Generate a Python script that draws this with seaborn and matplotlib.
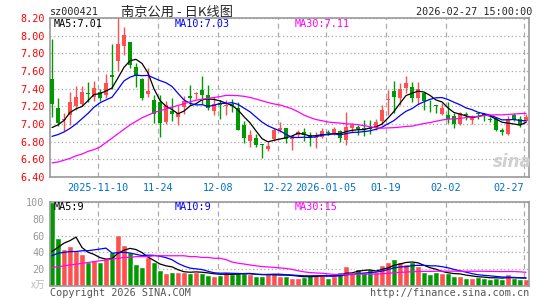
import numpy as np
import pandas as pd
import matplotlib
matplotlib.use("Agg")
import matplotlib.pyplot as plt
import seaborn as sns

# trading days (market closed on these)
holidays = ["2026-01-01", "2026-01-02", "2026-02-16", "2026-02-17", "2026-02-18",
            "2026-02-19", "2026-02-20", "2026-02-23"]
dates = pd.bdate_range("2025-10-29", "2026-02-27", freq="C", holidays=holidays)

tick_dates = ["2025-11-10", "2025-11-24", "2025-12-08", "2025-12-22",
              "2026-01-05", "2026-01-19", "2026-02-02", "2026-02-27"]
tick_labels = ["2025-11-10", "11-24", "12-08", "12-22", "2026-01-05", "01-19", "02-02", "02-27"]

# daily prices
open_ = [7.51, 7.18, 7.04, 7.10, 7.20, 7.23, 7.35, 7.31, 7.36, 7.33,
         7.55, 7.71, 7.88, 7.93, 7.65, 7.51, 7.34, 7.27, 7.25, 7.02,
         7.15, 7.08, 7.19, 7.32, 7.34, 7.38, 7.33, 7.15, 7.23, 7.20,
         7.23, 7.18, 6.99, 6.81, 6.84, 6.77, 6.72, 6.83, 6.93, 6.95,
         6.83, 6.88, 6.91, 6.87, 6.84, 6.85, 6.91, 6.90, 6.92, 6.82,
         6.96, 6.97, 6.95, 6.95, 6.97, 7.03, 7.27, 7.37, 7.29, 7.41,
         7.42, 7.30, 7.35, 7.22, 7.21, 7.11, 7.10, 7.09, 7.00, 7.11,
         7.05, 7.12, 7.11, 7.06, 7.06, 6.93, 6.89, 7.10, 7.06, 7.03]
high = [7.96, 7.29, 7.12, 7.36, 7.43, 7.43, 7.48, 7.49, 7.40, 7.57,
        7.90, 8.20, 8.10, 7.93, 7.69, 7.52, 7.63, 7.33, 7.33, 7.26,
        7.30, 7.22, 7.32, 7.44, 7.36, 7.54, 7.44, 7.31, 7.27, 7.27,
        7.28, 7.25, 7.03, 6.93, 6.89, 6.77, 6.80, 6.95, 7.02, 6.96,
        6.88, 6.93, 6.95, 6.91, 6.91, 6.95, 6.93, 6.97, 6.93, 7.14,
        7.01, 6.99, 7.04, 7.04, 7.06, 7.22, 7.38, 7.49, 7.46, 7.54,
        7.47, 7.48, 7.36, 7.27, 7.22, 7.24, 7.25, 7.12, 7.14, 7.14,
        7.10, 7.13, 7.12, 7.08, 7.08, 6.95, 7.09, 7.13, 7.09, 7.11]
low = [7.08, 6.98, 6.92, 6.99, 7.16, 7.20, 7.25, 7.26, 7.26, 7.30,
       7.40, 7.60, 7.78, 7.63, 7.42, 7.27, 7.31, 7.01, 6.85, 7.00,
       7.03, 6.99, 7.11, 7.21, 7.28, 7.23, 7.16, 7.10, 7.06, 7.10,
       7.14, 6.93, 6.79, 6.74, 6.74, 6.62, 6.69, 6.81, 6.91, 6.79,
       6.71, 6.85, 6.81, 6.75, 6.73, 6.84, 6.87, 6.88, 6.80, 6.76,
       6.91, 6.87, 6.86, 6.89, 6.93, 6.99, 7.10, 7.12, 7.22, 7.35,
       7.25, 7.23, 7.16, 7.14, 7.12, 7.10, 7.01, 6.95, 6.99, 7.05,
       7.00, 7.06, 7.03, 7.02, 6.92, 6.87, 6.88, 7.03, 6.97, 7.02]
close = [7.23, 7.01, 7.06, 7.25, 7.31, 7.36, 7.34, 7.41, 7.30, 7.46,
         7.53, 7.91, 8.01, 7.67, 7.54, 7.30, 7.37, 7.11, 7.01, 7.22,
         7.11, 7.13, 7.26, 7.30, 7.35, 7.33, 7.18, 7.23, 7.22, 7.22,
         7.20, 6.93, 6.84, 6.88, 6.76, 6.76, 6.75, 6.93, 6.95, 6.83,
         6.86, 6.91, 6.87, 6.85, 6.85, 6.92, 6.90, 6.94, 6.84, 6.97,
         6.99, 6.94, 6.94, 6.94, 7.02, 7.16, 7.28, 7.31, 7.40, 7.46,
         7.29, 7.40, 7.26, 7.21, 7.20, 7.18, 7.06, 7.00, 7.12, 7.10,
         7.09, 7.11, 7.10, 7.05, 6.93, 6.91, 7.06, 7.05, 6.99, 7.08]
# volume, 10k lots
volume = [100, 57, 44, 48, 42, 38, 29, 31, 29, 33,
          41, 61, 49, 40, 26, 23, 34, 29, 19, 15,
          17, 17, 17, 16, 17, 15, 13, 12, 13, 17,
          14, 15, 15, 14, 12, 12, 14, 15, 12, 12,
          10, 10, 11, 13, 13, 13, 10, 12, 17, 24,
          15, 20, 17, 20, 17, 25, 29, 32, 28, 26,
          28, 24, 17, 14, 17, 15, 16, 12, 12, 10,
          10, 11, 10, 8, 10, 8, 14, 9, 8, 8]

# moving averages before the window fills (they include earlier days)
ma5_head = [6.96, 6.99, 7.04, 7.13]
ma10_head = [6.86, 6.88, 6.91, 6.95, 7.00, 7.06, 7.12, 7.19, 7.24]
ma30_head = [6.56, 6.57, 6.59, 6.61, 6.64, 6.66, 6.69, 6.71, 6.74, 6.79,
             6.84, 6.89, 6.94, 6.99, 7.03, 7.07, 7.10, 7.13, 7.15, 7.17,
             7.19, 7.21, 7.23, 7.25, 7.27, 7.28, 7.29, 7.30, 7.31]
vma5_head = [41, 46, 51, 54]
vma10_head = [36, 39, 40, 41, 41, 42, 42, 43, 44]
vma30_head = [22, 23, 24, 25, 26, 27, 28, 29, 30, 31,
              32, 33, 34, 34, 35, 35, 35, 36, 36, 36,
              36, 36, 36, 35, 35, 34, 34, 33, 33]

df = pd.DataFrame({"date": dates[:len(close)], "open": open_, "high": high,
                   "low": low, "close": close, "volume": volume})
df["idx"] = np.arange(len(df))
df["up"] = df["close"] >= df["open"]
for n, head in [(5, ma5_head), (10, ma10_head), (30, ma30_head)]:
    df[f"ma{n}"] = df["close"].rolling(n).mean()
    df.loc[:len(head) - 1, f"ma{n}"] = head
for n, head in [(5, vma5_head), (10, vma10_head), (30, vma30_head)]:
    df[f"vma{n}"] = df["volume"].rolling(n).mean()
    df.loc[:len(head) - 1, f"vma{n}"] = head

tick_pos = df.index[df["date"].isin(pd.to_datetime(tick_dates))].to_numpy() - 1 / 3

RED = "#ff5050"
GREEN = "#009900"
GRID = "#aaaaaa"
BLUE_TXT = "#0070c8"

sns.set_style("white")
plt.rcParams["font.family"] = ["DejaVu Sans Mono", "Noto Sans CJK SC"]

W, H = 545, 300
fig = plt.figure(figsize=(W / 100, H / 100), dpi=100)
ax = fig.add_axes([50 / W, 1 - 177 / H, 479 / W, 159 / H])
axv = fig.add_axes([50 / W, 1 - 286 / H, 479 / W, 84 / H])

def pt(x, y):
    return x / W, 1 - y / H

# candles
cols = np.where(df["up"], RED, GREEN)
ax.vlines(df["idx"], df["low"], df["high"], colors=cols, lw=1, zorder=3)
body_lo = np.minimum(df["open"], df["close"])
body_h = np.maximum((df["close"] - df["open"]).abs(), 0.006)
ax.bar(df["idx"], body_h, bottom=body_lo, width=0.8, color=cols, lw=0, zorder=4)

sns.lineplot(x=df["idx"], y=df["ma5"], ax=ax, color="black", lw=0.9, zorder=5)
sns.lineplot(x=df["idx"], y=df["ma10"], ax=ax, color="#0000ff", lw=0.9, zorder=5)
sns.lineplot(x=df["idx"], y=df["ma30"], ax=ax, color="#ff00ff", lw=0.9, zorder=5)

# volume
sns.barplot(data=df, x="idx", y="volume", hue="up", palette={True: RED, False: GREEN},
            dodge=False, width=0.85, legend=False, ax=axv, saturation=1, zorder=2)
sns.lineplot(x=df["idx"], y=df["vma5"], ax=axv, color="black", lw=0.9, zorder=5)
sns.lineplot(x=df["idx"], y=df["vma10"], ax=axv, color="#0000ff", lw=0.9, zorder=5)
sns.lineplot(x=df["idx"], y=df["vma30"], ax=axv, color="#ff00ff", lw=0.9, zorder=5)

for a in (ax, axv):
    a.set_xlim(-1 / 3, 79.5)
    a.set_xlabel("")
    a.set_ylabel("")
    for s in a.spines.values():
        s.set_color("#999999")
        s.set_linewidth(1.2)
    a.tick_params(length=0)
    a.set_xticks(tick_pos)
    a.grid(axis="x", color=GRID, linestyle=(0, (4, 3)), lw=0.9)
    a.grid(axis="y", color=GRID, linestyle=(0, (1, 2)), lw=0.9)
    a.set_axisbelow(True)

ax.set_ylim(6.40, 8.20)
yt = np.round(np.arange(6.40, 8.21, 0.2), 2)
ax.set_yticks(yt)
ax.set_yticklabels([f"{v:.2f}" for v in yt], color="red", fontsize=7.3)
ax.tick_params(axis="y", pad=4)
ax.set_xticklabels(tick_labels, color=BLUE_TXT, fontsize=7.3)
ax.tick_params(axis="x", pad=4)
ax.get_xticklabels()[-1].set_ha("right")
ax.get_xticklabels()[-1].set_x(tick_pos[-1])

axv.set_ylim(0, 100)
axv.set_yticks([20, 40, 60, 80, 100])
axv.set_yticklabels(["20", "40", "60", "80", "100"], color="#999999", fontsize=7.3)
axv.tick_params(axis="y", pad=4)
axv.set_xticklabels([])

# texts
fig.text(*pt(50, 12), "sz000421", fontsize=7.3, va="center")
fig.text(*pt(121, 12), "南京公用 - 日K线图", fontsize=9.5, va="center",
         family=["Noto Sans CJK SC", "DejaVu Sans"])
fig.text(*pt(532, 12), "2026-02-27 15:00:00", fontsize=7.3, va="center", ha="right")

fig.text(*pt(54, 24), "MA5:7.01", fontsize=7.3, va="center", color="black")
fig.text(*pt(175, 24), "MA10:7.03", fontsize=7.3, va="center", color="#0000ff")
fig.text(*pt(295, 24), "MA30:7.11", fontsize=7.3, va="center", color="#ff00ff")
fig.text(*pt(54, 207), "MA5:9", fontsize=7.3, va="center", color="black")
fig.text(*pt(175, 207), "MA10:9", fontsize=7.3, va="center", color="#0000ff")
fig.text(*pt(295, 207), "MA30:15", fontsize=7.3, va="center", color="#ff00ff")

fig.text(*pt(45, 285), "x万", fontsize=7, va="center", ha="right", color="#bbbbbb",
         family=["Noto Sans CJK SC", "DejaVu Sans"])
fig.text(*pt(50, 293), "Copyright 2026 SINA.COM", fontsize=7.3, va="center", color="#555555")
fig.text(*pt(529, 293), "http://finance.sina.com.cn", fontsize=7.3, va="center",
         ha="right", color="#555555")
fig.text(*pt(512, 162), "sina", fontsize=12, va="center", ha="center", color="#d0d0d0",
         style="italic", weight="bold", family="DejaVu Sans")

fig.savefig("out.png", dpi=100)
